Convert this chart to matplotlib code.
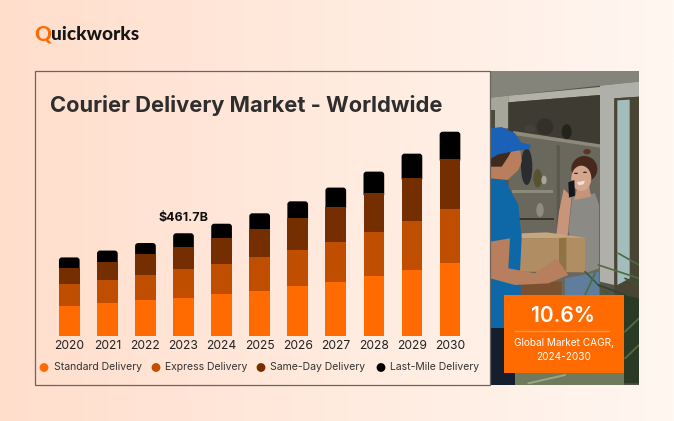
#!/usr/bin/env python
import matplotlib.pyplot as plt
import numpy as np
from matplotlib.patches import Circle, Ellipse, PathPatch, Polygon, Rectangle
from matplotlib.path import Path

plt.rcParams["font.family"] = ["Inter", "DejaVu Sans"]

W, H = 674, 421

YEARS = ["2020", "2021", "2022", "2023", "2024", "2025", "2026", "2027", "2028", "2029", "2030"]
STANDARD = [134, 149, 159, 170, 188, 203, 224, 243, 271, 296, 328]
EXPRESS = [98, 102, 116, 131, 135, 150, 164, 180, 195, 222, 245]
SAME_DAY = [74, 83, 92, 101, 116, 128, 144, 159, 176, 195, 225]
LAST_MILE = [47, 50, 51, 60, 66, 71, 74, 86, 98, 108, 122]
SERIES_NAMES = ["Standard Delivery", "Express Delivery", "Same-Day Delivery", "Last-Mile Delivery"]

ORANGE = "#FF6B00"
RUST = "#BF4E00"
BROWN = "#752E00"
BLACK = "#000000"
COLORS = [ORANGE, RUST, BROWN, BLACK]
INK = "#2E2E2E"


def rounded_top(x, bottom, top, width, rx, ry):
    l, r = x - width / 2, x + width / 2
    verts = [(l, bottom), (l, top - ry), (l, top), (l + rx, top), (r - rx, top), (r, top), (r, top - ry), (r, bottom), (l, bottom)]
    codes = [Path.MOVETO, Path.LINETO, Path.CURVE3, Path.CURVE3, Path.LINETO, Path.CURVE3, Path.CURVE3, Path.LINETO, Path.CLOSEPOLY]
    return Path(verts, codes)


def photo(ax, clip):
    # rough sketch of the doorstep photo, coordinates in zoom space (3x from 485,65)
    def zp(pts):
        return [(485 + x / 3, 65 + y / 3) for x, y in pts]

    def poly(pts, color, z=2):
        p = Polygon(zp(pts), closed=True, facecolor=color, edgecolor="none", zorder=z)
        ax.add_patch(p)
        p.set_clip_path(clip)
        return p

    def ell(x, y, w, h, color, z=2, angle=0):
        p = Ellipse((485 + x / 3, 65 + y / 3), w / 3, h / 3, angle=angle, facecolor=color, edgecolor="none", zorder=z)
        ax.add_patch(p)
        p.set_clip_path(clip)

    def stroke(pts, color, lw, z=6):
        arr = np.array(zp(pts))
        ln, = ax.plot(arr[:, 0], arr[:, 1], color=color, lw=lw, zorder=z, solid_capstyle="round")
        ln.set_clip_path(clip)

    poly([(16, 16), (462, 16), (462, 50), (345, 62), (70, 92), (16, 98)], "#85847A")
    poly([(16, 98), (70, 92), (70, 190), (16, 190)], "#A6A69B")
    poly([(16, 135), (30, 135), (30, 190), (16, 190)], "#4A4C3C", 3)
    poly([(70, 92), (345, 66), (345, 90), (70, 112)], "#B3B2A6")
    poly([(70, 112), (345, 90), (345, 690), (70, 690)], "#3E3B32")
    poly([(70, 205), (345, 245), (345, 690), (70, 690)], "#6A675C", 2.1)
    poly([(85, 198), (345, 238), (345, 248), (85, 210)], "#8D8A7B", 2.2)
    poly([(215, 240), (225, 242), (225, 520), (215, 520)], "#5B584E", 2.15)
    poly([(80, 374), (205, 374), (205, 384), (80, 384)], "#8D8A7B", 2.2)
    poly([(100, 458), (208, 458), (208, 466), (100, 466)], "#3A352C", 2.2)
    ell(180, 185, 50, 50, "#332F29", 2.3)
    ell(135, 190, 36, 22, "#45413A", 2.3)
    ell(245, 200, 30, 45, "#24231E", 2.3)
    ell(125, 305, 34, 110, "#2A2C30", 2.3)
    ell(158, 340, 26, 55, "#57522F", 2.3)
    ell(177, 345, 16, 26, "#A8A596", 2.3)
    ell(165, 435, 22, 42, "#908D80", 2.3)
    poly([(345, 62), (462, 50), (462, 95), (388, 100), (388, 660), (345, 650)], "#B0B0AA")
    poly([(388, 100), (462, 95), (462, 720), (388, 720)], "#4A4434")
    poly([(397, 106), (434, 104), (434, 640), (397, 660)], "#A3BDBC", 2.5)

    # woman
    poly([(262, 395), (330, 385), (342, 420), (342, 610), (300, 625), (250, 500)], "#8B8A85", 3)
    poly([(240, 640), (342, 620), (342, 690), (240, 690)], "#5F7D9C", 3)
    poly([(236, 372), (260, 395), (248, 510), (214, 510), (222, 440)], "#C9957A", 3.5)
    poly([(278, 360), (312, 360), (318, 395), (268, 405)], "#C69479", 3.2)
    ell(298, 312, 78, 78, "#47281C", 3.4)
    ell(306, 260, 22, 16, "#5E3323", 3.4)
    ell(289, 340, 60, 76, "#D3A68D", 3.5)
    poly([(250, 352), (268, 345), (270, 392), (252, 398)], "#15151A", 4)
    poly([(275, 352), (300, 347), (296, 358), (282, 361)], "#F0E0D6", 4)
    ell(273, 325, 12, 4, "#3A241C", 4)
    ell(300, 322, 12, 4, "#3A241C", 4)

    # courier
    poly([(16, 340), (60, 345), (100, 420), (110, 520), (105, 790), (16, 790)], "#0E68A8", 4)
    poly([(16, 790), (90, 790), (90, 960), (16, 960)], "#141E2C", 4)
    poly([(30, 250), (105, 245), (110, 290), (100, 315), (68, 345), (16, 340), (16, 270)], "#B97E5E", 4.2)
    poly([(16, 258), (82, 252), (70, 275), (50, 305), (16, 305)], "#3E2A1E", 4.3)
    poly([(16, 190), (50, 186), (90, 205), (108, 232), (137, 240), (135, 252), (90, 258), (40, 268), (16, 282)], "#1A62B8", 5)
    poly([(110, 520), (300, 518), (300, 622), (105, 620)], "#B08D63", 5)
    poly([(222, 520), (244, 518), (244, 622), (222, 620)], "#8F7343", 5.2)
    poly([(110, 505), (185, 502), (300, 518), (110, 520)], "#C6A67F", 5.1)
    poly([(16, 530), (75, 520), (70, 610), (150, 625), (215, 580), (250, 630), (190, 655), (90, 660), (16, 640)], "#B87F5E", 5.5)
    poly([(105, 655), (230, 650), (230, 690), (105, 690)], "#7A5030", 3)

    # plant
    for start, end, col in [
        ((300, 620), (370, 690), "#3F5A36"), ((340, 600), (462, 640), "#4D6B40"), ((400, 565), (462, 600), "#4D6B40"),
        ((420, 640), (462, 660), "#3A5230"), ((340, 660), (420, 690), "#2F4428"), ((300, 690), (330, 625), "#4D6B40"),
    ]:
        stroke([start, end], col, 1.2)
    poly([(416, 690), (462, 700), (462, 955), (416, 955)], "#2A3A24", 6)
    poly([(90, 925), (416, 925), (416, 960), (90, 960)], "#6F7A5C", 6)
    stroke([(130, 955), (240, 930)], "#9AA785", 1.4, 6.5)
    stroke([(420, 800), (462, 760)], "#4D6B40", 1.4, 6.5)
    stroke([(420, 880), (462, 840)], "#4D6B40", 1.4, 6.5)


fig = plt.figure(figsize=(W / 100, H / 100), dpi=100)

bg = fig.add_axes([0, 0, 1, 1])
bg.set_xlim(0, W)
bg.set_ylim(H, 0)
bg.axis("off")

# page gradient, left peach to right cream
grad = np.linspace(0, 1, 256)[None, :, None]
c0 = np.array([255, 222, 204]) / 255
c1 = np.array([255, 247, 241]) / 255
bg.imshow(c0 + (c1 - c0) * grad, extent=(0, W, H, 0), aspect="auto", zorder=0)
bg.set_xlim(0, W)
bg.set_ylim(H, 0)

# chart panel is just an outline over the page
bg.add_patch(Rectangle((35, 71), 455, 314, facecolor="none", edgecolor="#6B6460", lw=0.9, zorder=8))

clip = Rectangle((490, 71), 149, 314, transform=bg.transData)
bg.add_patch(Rectangle((490, 71), 149, 314, facecolor="#55524A", edgecolor="none", zorder=1.5))
photo(bg, clip)

# logo
bg.text(34.5, 34, "Q", color=ORANGE, fontsize=15, fontweight="black", va="center", ha="left", family="Lato")
bg.text(50.5, 34, "uickworks", color="#161616", fontsize=13.7, fontweight="black", va="center", ha="left", family="Lato")

bg.text(50, 105, "Courier Delivery Market - Worldwide", color=INK, fontsize=15.75, fontweight="bold", va="center", ha="left")

# legend
for cx, tx, name, col in zip([44, 156, 261, 381], [53.5, 165, 269.5, 390], SERIES_NAMES, COLORS):
    bg.add_patch(Circle((cx, 367.5), 4.4, facecolor=col, edgecolor="none", zorder=3))
    bg.text(tx, 367.5, name, color="#333333", fontsize=7.5, va="center", ha="left")

# callout
bg.add_patch(Rectangle((504.3, 295), 119.4, 78.3, facecolor=ORANGE, edgecolor="none", zorder=10))
bg.plot([515, 609], [331, 331], color="#FF9A55", lw=1, zorder=11)
bg.text(563.5, 316, "10.6%", color="white", fontsize=15.2, fontweight="semibold", ha="center", va="center", zorder=11)
bg.text(563.5, 342.5, "Global Market CAGR,", color="white", fontsize=7.25, ha="center", va="center", zorder=11)
bg.text(563.5, 357.5, "2024-2030", color="white", fontsize=7.25, ha="center", va="center", zorder=11)

# bars
left, right, top, base = 40, 480, 120, 335.7
ax = fig.add_axes([left / W, 1 - base / H, (right - left) / W, (base - top) / H])
ax.patch.set_alpha(0)
x0, step = 69.3, 38.07
ax.set_xlim((left - x0) / step, (right - x0) / step)
ax.set_ylim(0, (base - top) * 4.51)
x = np.arange(len(YEARS))
bar_w = 20.7 / step
bottom = np.zeros(len(YEARS))
for vals, col in zip([STANDARD, EXPRESS, SAME_DAY], COLORS[:3]):
    ax.bar(x, vals, bottom=bottom, width=bar_w, color=col, linewidth=0, zorder=2)
    bottom += np.array(vals)
for xi, b, v in zip(x, bottom, LAST_MILE):
    # black cap runs a bit under the brown so no seam shows
    ax.add_patch(PathPatch(rounded_top(xi, b - 8, b + v, bar_w, 3 / step, 3 * 4.51), facecolor=BLACK, edgecolor="none", zorder=1))

total_2023 = bottom[3] + LAST_MILE[3]
ax.annotate("$461.7B", (3, total_2023), xytext=(0, 6.5), textcoords="offset points", ha="center", va="bottom",
            fontsize=9, fontweight="bold", color="#111111")

ax.set_xticks(x)
ax.set_xticklabels(YEARS, fontsize=8.7, color="#222222")
ax.tick_params(axis="x", length=0, pad=3)
ax.set_yticks([])
for s in ax.spines.values():
    s.set_visible(False)

fig.savefig("out.png", dpi=100)
